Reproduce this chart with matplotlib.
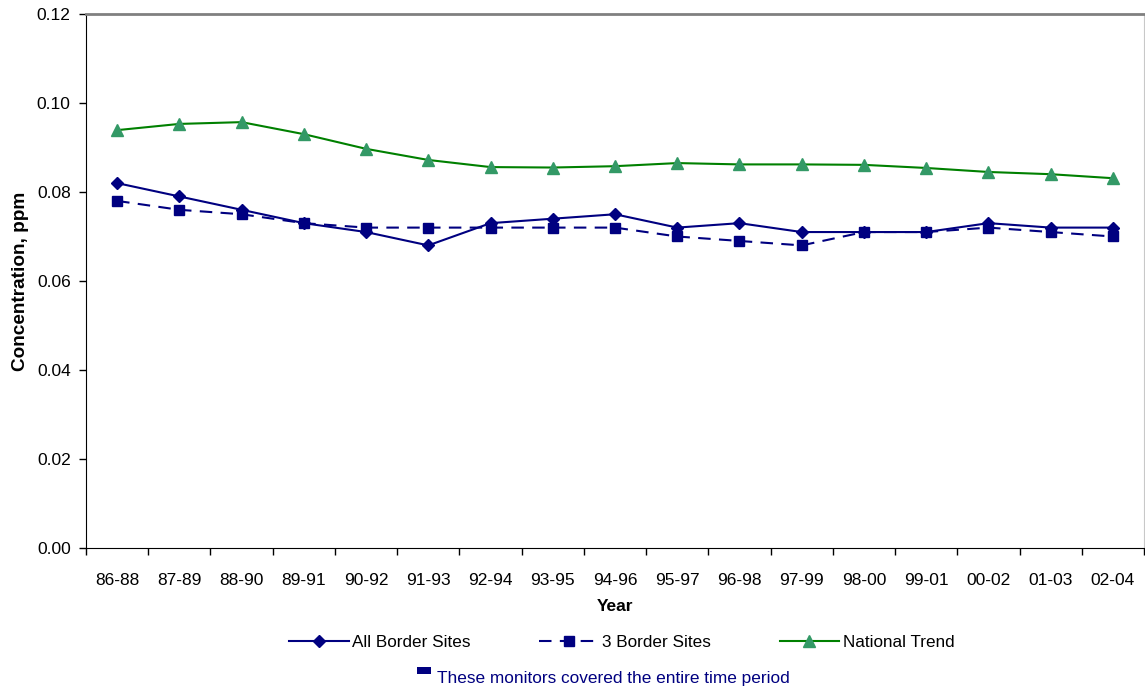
import numpy as np
import matplotlib.pyplot as plt
from matplotlib.lines import Line2D
from matplotlib.path import Path
from matplotlib.ticker import FormatStrFormatter, FixedLocator

plt.rcParams['font.family'] = ['Liberation Sans', 'DejaVu Sans']

years = ['86-88', '87-89', '88-90', '89-91', '90-92', '91-93', '92-94', '93-95', '94-96',
         '95-97', '96-98', '97-99', '98-00', '99-01', '00-02', '01-03', '02-04']
all_border = [0.082, 0.079, 0.076, 0.073, 0.071, 0.068, 0.073, 0.074, 0.075,
              0.072, 0.073, 0.071, 0.071, 0.071, 0.073, 0.072, 0.072]
three_border = [0.078, 0.076, 0.075, 0.073, 0.072, 0.072, 0.072, 0.072, 0.072,
                0.070, 0.069, 0.068, 0.071, 0.071, 0.072, 0.071, 0.070]
national = [0.0939, 0.0953, 0.0957, 0.0930, 0.0897, 0.0872, 0.0856, 0.0855, 0.0858,
            0.0865, 0.0862, 0.0862, 0.0861, 0.0854, 0.0845, 0.0840, 0.0831]

navy = '#000080'
x = np.arange(len(years))

fig = plt.figure(figsize=(11.45, 6.92), dpi=100)
ax = fig.add_axes([86 / 1145, 1 - 548 / 692, 1058 / 1145, 534 / 692])

ax.plot(x, all_border, color=navy, lw=1.5, marker='D', ms=6.5, mfc=navy, mec=navy,
        label='All Border Sites')
ax.plot(x, three_border, color=navy, lw=1.5, ls=(0, (6, 4)), marker='s', ms=7.5,
        mfc=navy, mec=navy, label='3 Border Sites')
ax.plot(x, national, color='#008000', lw=1.5, marker='^', ms=9, mfc='#339966',
        mec='#339966', label='National Trend')

ax.set_xlim(-0.5, len(years) - 0.5)
ax.set_ylim(0, 0.12)
ax.set_yticks(np.arange(0, 0.121, 0.02))
ax.yaxis.set_major_formatter(FormatStrFormatter('%.2f'))
ax.set_xticks(x)
ax.set_xticklabels(years)
ax.xaxis.set_minor_locator(FixedLocator(np.arange(-0.5, len(years), 1.0)))
ax.tick_params(axis='x', which='major', length=0, pad=18, labelsize=12.5)
ax.tick_params(axis='x', which='minor', length=5, width=1, color='black')
ax.tick_params(axis='y', length=5, width=1, pad=6, labelsize=12.5)

ax.spines['left'].set_color('black')
ax.spines['bottom'].set_color('black')
ax.spines['top'].set_color('#808080')
ax.spines['top'].set_linewidth(2)
ax.spines['right'].set_color('#c8c8c8')

ax.set_xlabel('Year', fontsize=12.5, fontweight='bold', labelpad=8)
ax.set_ylabel('Concentration, ppm', fontsize=13.7, fontweight='bold', labelpad=6)

handles, labels = ax.get_legend_handles_labels()
fig.legend(handles, labels, loc='center', bbox_to_anchor=(0.543, 0.071), ncol=3,
           frameon=False, fontsize=12.3, handlelength=3.5, handletextpad=0.2,
           columnspacing=4.0)

# flat bar sitting high beside the note text
bar = Path([(-1, 0.5), (1, 0.5), (1, 1.5), (-1, 1.5), (-1, 0.5)])
note = Line2D([], [], ls='none', marker=bar, ms=15, mfc=navy, mec=navy, mew=0)
fig.legend([note], ['These monitors covered the entire time period'], loc='center',
           bbox_to_anchor=(0.527, 0.019), frameon=False, fontsize=12.4,
           labelcolor=navy, handlelength=0.8, handletextpad=0.3)

fig.savefig('out.png', dpi=100)
